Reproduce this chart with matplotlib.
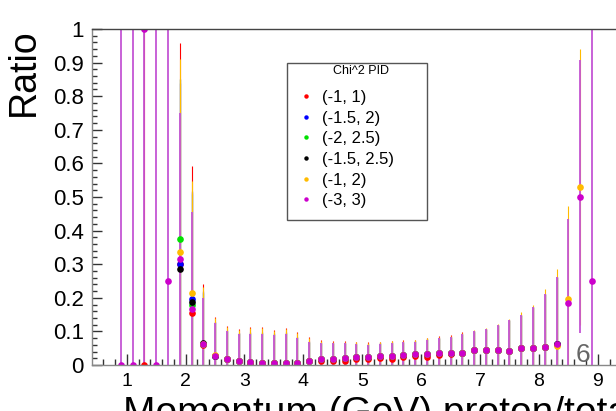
import numpy as np
import matplotlib
matplotlib.use("Agg")
import matplotlib.pyplot as plt
from matplotlib.lines import Line2D
from matplotlib.patches import Rectangle
from matplotlib.ticker import MultipleLocator, FuncFormatter

plt.rcParams['font.family'] = ['Liberation Sans', 'DejaVu Sans']

# bin centres (GeV)
momentum = [0.9, 1.1, 1.3, 1.5, 1.7, 1.9, 2.1, 2.3, 2.5, 2.7, 2.9, 3.1, 3.3, 3.5,
            3.7, 3.9, 4.1, 4.3, 4.5, 4.7, 4.9, 5.1, 5.3, 5.5, 5.7, 5.9, 6.1, 6.3,
            6.5, 6.7, 6.9, 7.1, 7.3, 7.5, 7.7, 7.9, 8.1, 8.3, 8.5, 8.7, 8.9]

nan = np.nan

# ratio and upper edge of the error bar for each chi^2 window
red_val = [nan, nan, 0.0, nan, nan, 0.300, 0.155, 0.060, 0.026, 0.017, 0.011, 0.007, 0.005, 0.005,
           0.003, 0.005, 0.011, 0.013, 0.013, 0.013, 0.017, 0.018, 0.020, 0.019, 0.024, 0.027, 0.025, 0.029,
           0.033, 0.035, 0.045, 0.046, 0.044, 0.041, 0.050, 0.052, 0.054, 0.062, nan, nan, nan]
red_hi = [nan, nan, 1.2, nan, nan, 0.957, 0.592, 0.241, 0.144, 0.116, 0.108, 0.112, 0.112, 0.104,
          0.111, 0.099, 0.082, 0.073, 0.070, 0.070, 0.068, 0.067, 0.069, 0.071, 0.073, 0.075, 0.081, 0.085,
          0.088, 0.097, 0.100, 0.106, 0.118, 0.133, 0.150, 0.172, 0.211, 0.263, nan, nan, nan]

blue_val = [nan, nan, nan, nan, nan, 0.300, 0.195, 0.062, 0.027, 0.018, 0.012, 0.008, 0.006, 0.006,
            0.005, 0.006, 0.013, 0.019, 0.019, 0.020, 0.023, 0.024, 0.026, 0.026, 0.029, 0.032, 0.032, 0.037,
            0.036, 0.037, 0.045, 0.046, 0.044, 0.041, 0.050, 0.052, 0.054, 0.062, nan, nan, nan]
blue_hi = [nan, nan, nan, nan, nan, 0.840, 0.515, 0.216, 0.127, 0.102, 0.094, 0.095, 0.095, 0.092,
           0.095, 0.082, 0.069, 0.066, 0.065, 0.065, 0.063, 0.062, 0.064, 0.066, 0.068, 0.070, 0.076, 0.080,
           0.083, 0.092, 0.100, 0.106, 0.118, 0.133, 0.150, 0.172, 0.211, 0.263, nan, nan, nan]

green_val = [nan, nan, nan, nan, nan, 0.375, 0.178, 0.062, 0.027, 0.018, 0.012, 0.008, 0.006, 0.006,
             0.005, 0.006, 0.013, 0.019, 0.019, 0.020, 0.023, 0.024, 0.026, 0.026, 0.029, 0.032, 0.032, 0.037,
             0.036, 0.037, 0.045, 0.046, 0.044, 0.041, 0.050, 0.052, 0.054, 0.062, nan, nan, nan]
green_hi = [nan, nan, nan, nan, nan, 0.852, 0.509, 0.213, 0.127, 0.102, 0.094, 0.095, 0.095, 0.092,
            0.095, 0.082, 0.069, 0.066, 0.065, 0.065, 0.063, 0.062, 0.064, 0.066, 0.068, 0.070, 0.076, 0.080,
            0.083, 0.092, 0.100, 0.106, 0.118, 0.133, 0.150, 0.172, 0.211, 0.263, nan, nan, nan]

black_val = [nan, nan, nan, nan, nan, 0.285, 0.187, 0.064, 0.027, 0.018, 0.012, 0.008, 0.006, 0.006,
             0.005, 0.006, 0.013, 0.019, 0.019, 0.020, 0.023, 0.024, 0.026, 0.026, 0.029, 0.032, 0.032, 0.037,
             0.036, 0.037, 0.045, 0.046, 0.044, 0.041, 0.050, 0.052, 0.054, 0.062, nan, nan, nan]
black_hi = [nan, nan, nan, nan, nan, 0.850, 0.519, 0.219, 0.129, 0.104, 0.096, 0.097, 0.097, 0.094,
            0.097, 0.084, 0.071, 0.067, 0.066, 0.066, 0.064, 0.063, 0.065, 0.067, 0.069, 0.071, 0.077, 0.081,
            0.084, 0.093, 0.100, 0.106, 0.118, 0.133, 0.150, 0.172, 0.211, 0.263, nan, nan, nan]

orange_val = [nan, nan, nan, nan, nan, 0.335, 0.215, 0.063, 0.031, 0.018, 0.012, 0.008, 0.006, 0.006,
              0.005, 0.006, 0.013, 0.019, 0.019, 0.020, 0.023, 0.024, 0.026, 0.026, 0.029, 0.032, 0.032, 0.037,
              0.036, 0.037, 0.045, 0.046, 0.044, 0.041, 0.050, 0.052, 0.054, 0.058, 0.195, 0.530, nan]
orange_hi = [nan, nan, nan, nan, nan, 0.910, 0.547, 0.233, 0.140, 0.113, 0.105, 0.109, 0.109, 0.101,
             0.108, 0.096, 0.080, 0.071, 0.069, 0.069, 0.067, 0.066, 0.068, 0.070, 0.072, 0.074, 0.080, 0.084,
             0.087, 0.096, 0.104, 0.110, 0.123, 0.138, 0.157, 0.180, 0.225, 0.286, 0.473, 0.940, nan]

magenta_val = [0.0, 0.0, 1.0, 0.0, 0.250, 0.315, 0.167, 0.062, 0.027, 0.018, 0.012, 0.008, 0.006, 0.006,
               0.005, 0.006, 0.013, 0.019, 0.019, 0.020, 0.023, 0.024, 0.026, 0.026, 0.029, 0.032, 0.032, 0.037,
               0.036, 0.037, 0.045, 0.046, 0.044, 0.041, 0.050, 0.052, 0.054, 0.062, 0.185, 0.500, 0.250]
magenta_hi = [1.2, 1.2, 1.2, 1.2, 1.2, 0.751, 0.454, 0.200, 0.125, 0.100, 0.092, 0.093, 0.093, 0.090,
              0.093, 0.080, 0.067, 0.065, 0.064, 0.064, 0.062, 0.061, 0.063, 0.065, 0.067, 0.069, 0.075, 0.079,
              0.082, 0.091, 0.100, 0.106, 0.118, 0.133, 0.150, 0.172, 0.211, 0.263, 0.435, 0.908, 1.2]

# the error bars reach down to zero except in the 8.7 GeV bin
low_edge_87 = {'(-1, 2)': 0.118, '(-3, 3)': 0.094}

labels = ['(-1, 1)', '(-1.5, 2)', '(-2, 2.5)', '(-1.5, 2.5)', '(-1, 2)', '(-3, 3)']
colors = ['#ff0000', '#0000ff', '#00e000', '#000000', '#ffbb00', '#cc00cc']
values = [red_val, blue_val, green_val, black_val, orange_val, magenta_val]
uppers = [red_hi, blue_hi, green_hi, black_hi, orange_hi, magenta_hi]

fig = plt.figure(figsize=(6.16, 4.11), dpi=100)
ax = fig.add_axes([92 / 616, 1 - 365 / 411, 1 - 92 / 616, 336 / 411])

x = np.array(momentum)
for lab, col, v, h in zip(labels, colors, values, uppers):
    v = np.array(v, dtype=float)
    h = np.array(h, dtype=float)
    lo = np.zeros_like(v)
    if lab in low_edge_87:
        lo[momentum.index(8.7)] = low_edge_87[lab]
    if col == '#cc00cc':
        ecol, lw = '#c455d4', 1.3
    else:
        ecol, lw = col, 0.8
    ax.errorbar(x, v, yerr=[v - lo, h - v], fmt='o', color=col, ecolor=ecol,
                ms=4.8, elinewidth=lw, capsize=1.6, capthick=1.0,
                markeredgewidth=0, clip_on=True)

ax.set_xlim(0.41, 9.31)
ax.set_ylim(0, 1)

ax.spines['right'].set_visible(False)
ax.spines['top'].set_color('#444444')
ax.spines['left'].set_color('#888888')
ax.spines['bottom'].set_color('#888888')
for s in ax.spines.values():
    s.set_linewidth(1.0)

ax.xaxis.set_major_locator(MultipleLocator(1))
ax.xaxis.set_minor_locator(MultipleLocator(0.2))
ax.yaxis.set_major_locator(MultipleLocator(0.1))
ax.yaxis.set_minor_locator(MultipleLocator(0.02))
ax.yaxis.set_major_formatter(FuncFormatter(lambda v, p: '%g' % round(v, 2)))
ax.xaxis.set_major_formatter(FuncFormatter(lambda v, p: '%g' % v))

ax.tick_params(axis='both', which='both', direction='in', color='#333333', top=False, right=False)
ax.tick_params(axis='x', which='major', length=8, width=1, labelsize=14, pad=6)
ax.tick_params(axis='x', which='minor', length=4, width=1)
ax.tick_params(axis='y', which='major', length=7, width=1, labelsize=16, pad=6)
ax.tick_params(axis='y', which='minor', length=3.5, width=1)

fig.text(24 / 616, 1 - 28 / 411, 'Ratio', rotation=90, ha='center', va='top', fontsize=27)
fig.text(123 / 616, 1 - 424 / 411, 'Momentum (GeV) proton/total', ha='left', va='baseline', fontsize=28)
fig.text(583 / 616, 1 - 362 / 411, '6', ha='center', va='baseline', fontsize=19, color='#666666')

# legend box with its title, then the entries inside it
fig.add_artist(Rectangle((287 / 616, 1 - 220 / 411), 140 / 616, 157 / 411, transform=fig.transFigure,
                         facecolor='white', edgecolor='#555555', linewidth=1.0, zorder=3))
fig.text(361 / 616, 1 - 71 / 411, 'Chi^2 PID', ha='center', va='center', fontsize=9, zorder=4)

handles = [Line2D([], [], ls='none', marker='o', ms=3.2, color=c, markeredgewidth=0) for c in colors]
leg = fig.legend(handles, labels, fontsize=12, loc='upper left',
                 bbox_to_anchor=(296 / 616, 1 - 90 / 411), borderaxespad=0, frameon=False,
                 handlelength=1.2, handletextpad=0.35, labelspacing=0.34, borderpad=0.0)
leg.set_zorder(5)

fig.savefig('out.png', dpi=100)
